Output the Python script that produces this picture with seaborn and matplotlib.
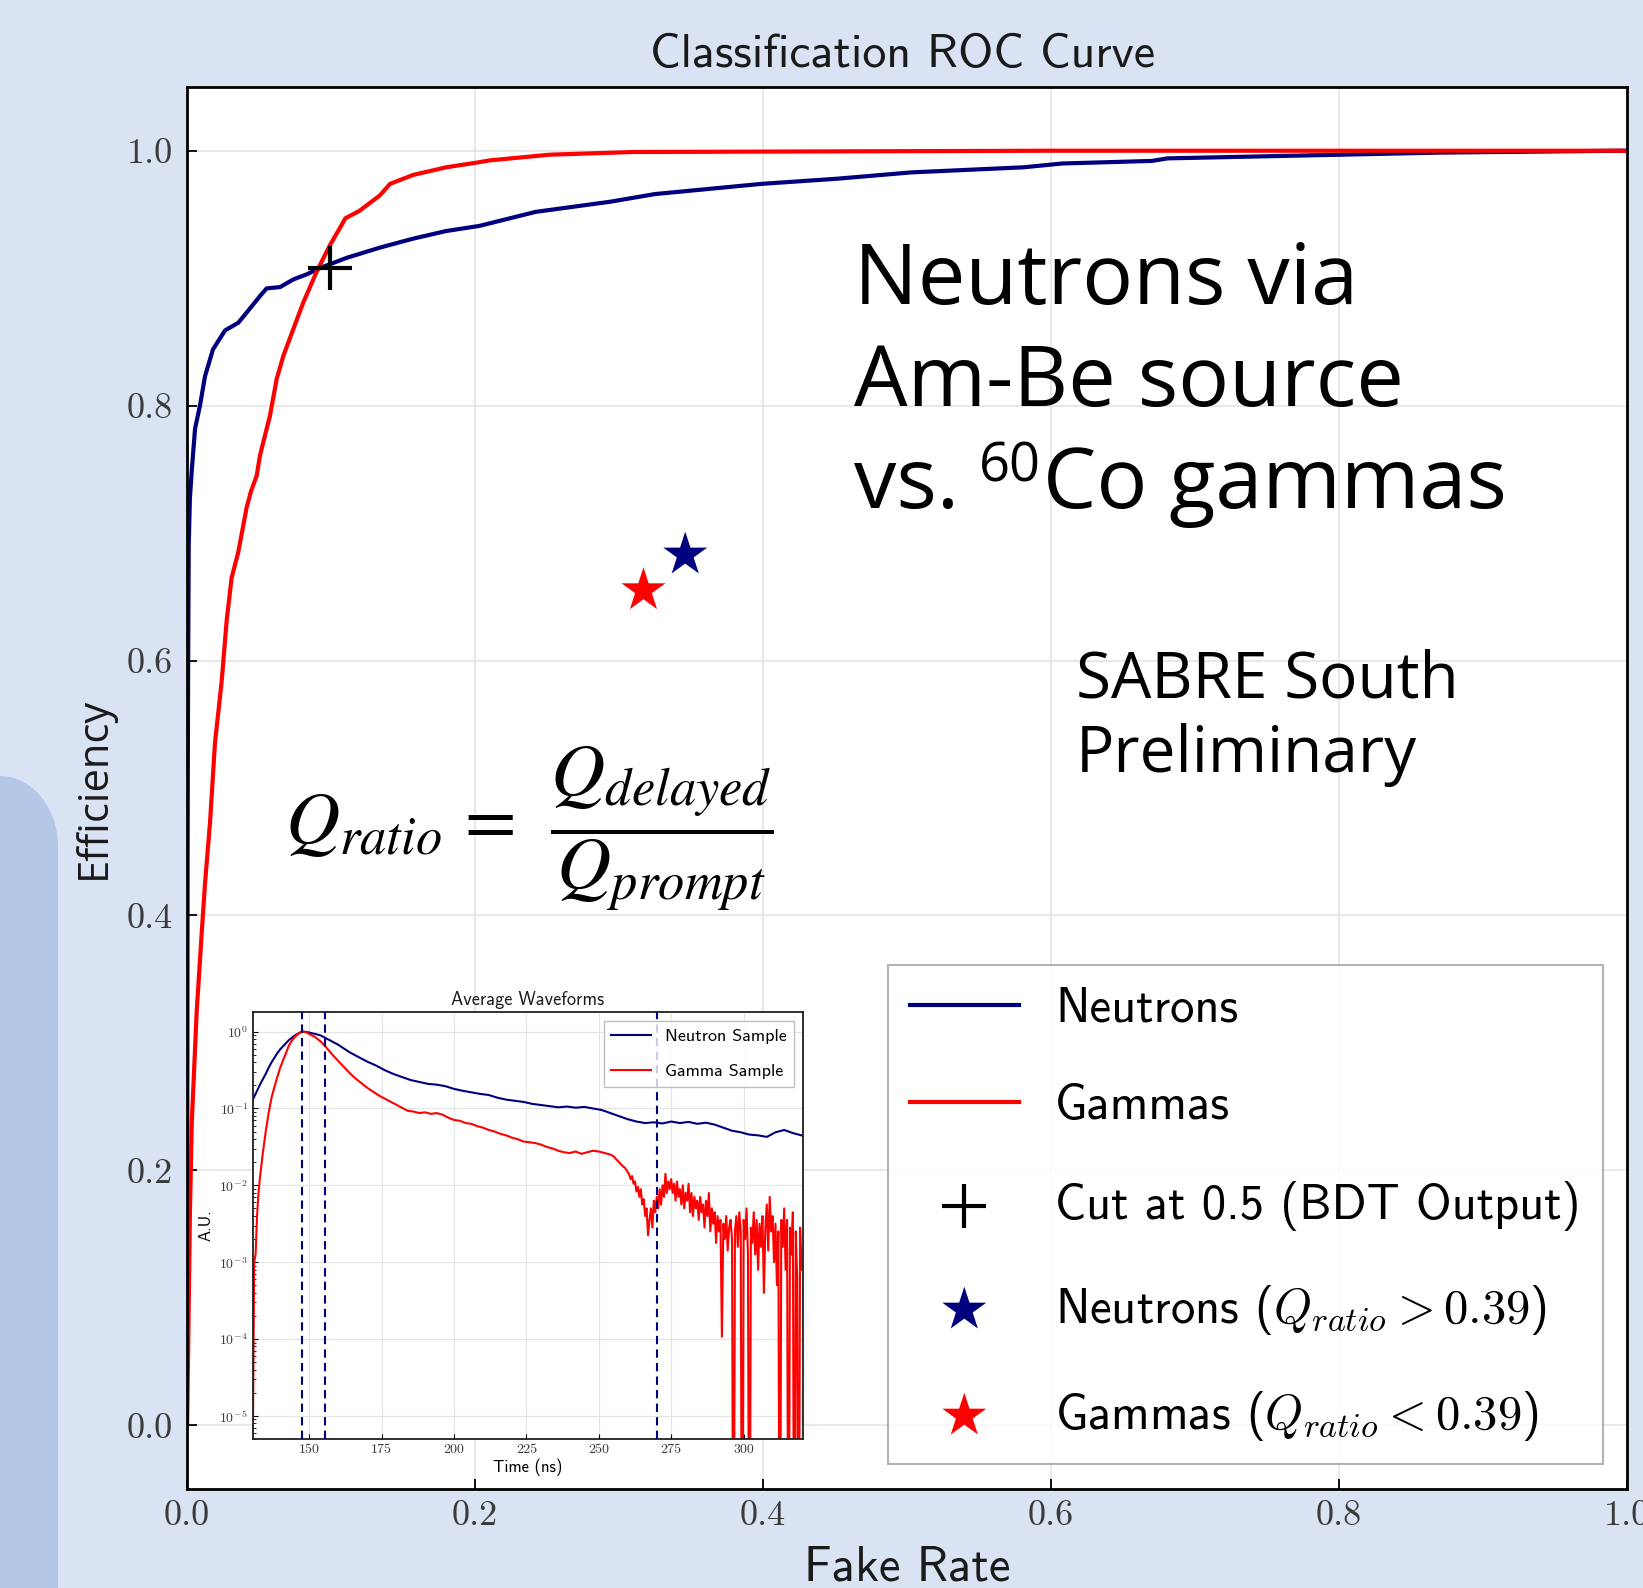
import numpy as np
import pandas as pd
import matplotlib
matplotlib.use("Agg")
import matplotlib.pyplot as plt
import seaborn as sns
from matplotlib.font_manager import FontProperties
from matplotlib.patches import Polygon

# ---------------- ROC curves ----------------
neutron_fake_rate = [0.000, 0.0004, 0.0008, 0.0012, 0.002, 0.0033, 0.0056, 0.009, 0.0125, 0.018,
                     0.0264, 0.0356, 0.0414, 0.0507, 0.0553, 0.0646, 0.0738, 0.0831, 0.0924, 0.111,
                     0.134, 0.157, 0.180, 0.203, 0.242, 0.294, 0.325, 0.399, 0.451, 0.503,
                     0.581, 0.608, 0.670, 0.681, 0.764, 0.869, 0.994, 1.000]
neutron_efficiency = [0.000, 0.450, 0.600, 0.690, 0.727, 0.749, 0.782, 0.800, 0.823, 0.844,
                      0.859, 0.865, 0.873, 0.886, 0.892, 0.893, 0.899, 0.903, 0.908, 0.916,
                      0.924, 0.931, 0.937, 0.941, 0.952, 0.960, 0.966, 0.974, 0.978, 0.983,
                      0.987, 0.990, 0.992, 0.994, 0.996, 0.9985, 1.000, 1.000]

gamma_fake_rate = [0.000, 0.0008, 0.0015, 0.002, 0.0033, 0.0067, 0.0102, 0.0125, 0.016, 0.0194,
                   0.0241, 0.0276, 0.031, 0.0356, 0.0414, 0.0445, 0.0484, 0.0507, 0.0576, 0.0623,
                   0.0669, 0.0738, 0.0808, 0.090, 0.0993, 0.106, 0.110, 0.120, 0.134, 0.141,
                   0.157, 0.180, 0.203, 0.210, 0.252, 0.310, 0.451, 0.600, 1.000]
gamma_efficiency = [0.000, 0.060, 0.120, 0.165, 0.237, 0.324, 0.386, 0.425, 0.473, 0.535,
                    0.584, 0.632, 0.665, 0.685, 0.720, 0.733, 0.745, 0.761, 0.792, 0.821,
                    0.839, 0.860, 0.881, 0.905, 0.926, 0.939, 0.947, 0.953, 0.965, 0.974,
                    0.981, 0.987, 0.991, 0.9924, 0.9969, 0.999, 0.9995, 1.000, 1.000]

# BDT cut working point and the charge-ratio cut points
cut_fake_rate = [0.099]
cut_efficiency = [0.908]
qratio_neutron_fake_rate = [0.346]
qratio_neutron_efficiency = [0.683]
qratio_gamma_fake_rate = [0.317]
qratio_gamma_efficiency = [0.655]

roc_labels = ["Neutrons", "Gammas", "Cut at 0.5 (BDT Output)",
              r"Neutrons ($Q_{ratio} > 0.39$)", r"Gammas ($Q_{ratio} < 0.39$)"]
fake_rate_ticks = [0.0, 0.2, 0.4, 0.6, 0.8, 1.0]
efficiency_ticks = [0.0, 0.2, 0.4, 0.6, 0.8, 1.0]

# ---------------- average waveforms: (time in ns, log10 of normalised amplitude) ----------------
neutron_samples = [
    (130, -0.92), (131, -0.85), (132, -0.77), (133, -0.69), (134, -0.62), (135, -0.55),
    (136, -0.47), (137, -0.40), (138, -0.34), (139, -0.28), (140, -0.23), (141, -0.19),
    (142, -0.15), (143, -0.11), (144, -0.08), (145, -0.05), (146, -0.03), (147, -0.01),
    (148, 0.00), (149, -0.004), (150, -0.012),
    (152, -0.03), (154, -0.05), (156, -0.09), (158, -0.13), (160, -0.17), (162, -0.22),
    (164, -0.27), (166, -0.31), (168, -0.35), (170, -0.39),
    (173, -0.44), (176, -0.50), (179, -0.55), (182, -0.59), (185, -0.63), (188, -0.655),
    (191, -0.68), (194, -0.69), (197, -0.71), (200, -0.745), (203, -0.77), (206, -0.79),
    (209, -0.81), (212, -0.825), (215, -0.86), (218, -0.885), (221, -0.90), (224, -0.915),
    (227, -0.94), (230, -0.955), (233, -0.97), (236, -0.985), (239, -0.975), (242, -0.99),
    (245, -0.98), (248, -1.00), (251, -1.02), (254, -1.06), (257, -1.10), (260, -1.14),
    (263, -1.17), (266, -1.19), (269, -1.18), (272, -1.195), (275, -1.17), (278, -1.19),
    (281, -1.175), (284, -1.20), (287, -1.185), (290, -1.21), (293, -1.25), (296, -1.29),
    (299, -1.31), (302, -1.34), (305, -1.35), (308, -1.37), (311, -1.31), (314, -1.28),
    (317, -1.32), (320, -1.35),
]

gamma_samples = [
    (130, -7.0), (130.5, -5.6), (131, -3.0), (131.5, -2.9), (132, -2.4), (132.5, -2.1),
    (133, -1.9), (134, -1.58), (135, -1.30), (136, -1.06), (137, -0.86), (138, -0.72),
    (139, -0.59), (140, -0.47), (141, -0.37), (142, -0.28), (143, -0.18), (144, -0.12),
    (145, -0.07), (146, -0.035), (147, -0.01), (148, 0.0), (149, -0.01), (150, -0.03),
    (152, -0.07), (154, -0.13), (156, -0.21), (158, -0.30), (160, -0.38), (162, -0.46),
    (164, -0.54), (166, -0.61), (168, -0.67), (170, -0.73), (172, -0.78), (174, -0.83),
    (176, -0.87), (178, -0.91), (180, -0.95), (182, -0.99), (184, -1.03), (186, -1.04),
    (188, -1.06), (190, -1.05), (192, -1.07), (194, -1.06), (196, -1.08), (198, -1.12),
    (200, -1.15), (202, -1.16), (204, -1.19), (206, -1.20), (208, -1.23), (210, -1.25),
    (212, -1.28), (214, -1.30), (216, -1.33), (218, -1.35), (220, -1.38), (222, -1.40),
    (224, -1.43), (226, -1.44), (228, -1.45), (230, -1.47), (232, -1.50), (234, -1.52),
    (236, -1.55), (238, -1.57), (240, -1.58), (242, -1.56), (244, -1.59), (246, -1.57),
    (248, -1.55), (250, -1.56), (252, -1.58), (254, -1.60), (255, -1.62), (256, -1.66),
    (257, -1.70),
    (258.0, -1.74), (258.5, -1.76), (259.0, -1.77), (259.5, -1.80), (260.0, -1.83),
    (260.5, -1.86), (261.0, -1.92), (261.5, -1.88), (262.0, -1.98), (262.5, -1.95),
    (263.0, -2.08), (263.5, -2.02), (264.0, -2.15), (264.5, -2.05), (265.0, -2.25),
    (265.5, -2.18), (266.0, -2.40), (266.5, -2.30), (267.0, -2.65), (267.5, -2.45),
    (268.0, -2.30), (268.5, -2.55), (269.0, -2.20), (269.5, -2.35), (270.0, -2.15),
    (270.5, -2.30), (271.0, -2.05), (271.5, -2.25), (272.0, -2.00), (272.5, -2.15),
    (273.0, -1.85), (273.5, -2.10), (274.0, -1.95), (274.5, -2.05), (275.0, -1.92),
    (275.5, -2.10), (276.0, -1.98), (276.5, -2.20), (277.0, -1.95), (277.5, -2.15),
    (278.0, -2.05), (278.5, -2.25), (279.0, -2.00), (279.5, -2.30), (280.0, -2.10),
    (280.5, -2.20), (281.0, -1.98), (281.5, -2.35), (282.0, -2.10), (282.5, -2.40),
    (283.0, -2.15), (283.5, -2.30), (284.0, -2.20), (284.5, -2.45), (285.0, -2.15),
    (285.5, -2.35), (286.0, -2.25), (286.5, -2.55), (287.0, -2.20), (287.5, -2.40),
    (288.0, -2.10), (288.5, -2.60), (289.0, -2.30), (289.5, -2.50), (290.0, -2.35),
    (290.5, -2.75), (291.0, -2.40), (291.5, -2.60), (292.0, -2.45), (292.5, -3.97),
    (293.0, -2.50), (293.5, -2.70), (294.0, -2.40), (294.5, -2.85), (295.0, -2.55),
    (295.5, -2.45), (296.0, -2.70), (296.5, -9.0), (297.0, -2.60), (297.5, -2.40),
    (298.0, -2.80), (298.5, -2.35), (299.0, -2.60), (299.5, -9.0), (300.0, -2.45),
    (300.5, -2.70), (301.0, -2.30), (301.5, -2.90), (302.0, -9.0), (302.5, -2.55),
    (303.0, -2.75), (303.5, -2.35), (304.0, -2.90), (304.5, -2.45), (305.0, -3.10),
    (305.5, -2.50), (306.0, -2.80), (306.5, -2.40), (307.0, -3.40), (307.5, -2.55),
    (308.0, -2.25), (308.5, -2.85), (309.0, -2.15), (309.5, -2.60), (310.0, -2.40),
    (310.5, -3.00), (311.0, -2.50), (311.5, -3.30), (312.0, -2.60), (312.5, -9.0),
    (313.0, -2.45), (313.5, -2.80), (314.0, -2.30), (314.5, -3.10), (315.0, -2.45),
    (315.5, -9.0), (316.0, -2.55), (316.5, -2.90), (317.0, -2.35), (317.5, -9.0),
    (318.0, -2.60), (318.5, -3.20), (319.0, -9.0), (319.5, -2.55), (320.0, -3.10),
]

# integration window edges (prompt / delayed)
window_edges_ns = [147.5, 155.5, 270.0]
time_ticks = [150, 175, 200, 225, 250, 275, 300]
waveform_labels = ["Neutron Sample", "Gamma Sample"]

# ---------------- styling ----------------
BG = "#DAE3F3"
PANEL = "#B4C7E7"
NAVY = "#00007F"
RED = "#FF0000"
TICK_GREY = "#3a3a3a"

plt.rcParams["mathtext.fontset"] = "cm"
plt.rcParams["mathtext.rm"] = "Open Sans"
plt.rcParams["axes.unicode_minus"] = False

W, H = 1643, 1588
fig = plt.figure(figsize=(W / 100, H / 100), dpi=100, facecolor=BG)


def fx(px):
    return px / W


def fy(py):
    return 1 - py / H


# rounded side tab on the left edge
theta = np.linspace(np.pi / 2, 0, 60)
arc = [(fx(58 * np.cos(t)), fy(847 - 71 * np.sin(t))) for t in theta]
tab = Polygon([(fx(0), fy(H + 5))] + arc + [(fx(58), fy(H + 5))], closed=True,
              transform=fig.transFigure, facecolor=PANEL, edgecolor="none", zorder=-1)
fig.patches.append(tab)

# ---------------- main ROC axes ----------------
ax = fig.add_axes([fx(187), fy(1489), (1627 - 187) / W, (1489 - 87) / H])
ax.set_facecolor("white")
ax.set_axisbelow(True)

neutron_roc = pd.DataFrame({"fake_rate": neutron_fake_rate, "efficiency": neutron_efficiency})
gamma_roc = pd.DataFrame({"fake_rate": gamma_fake_rate, "efficiency": gamma_efficiency})

sns.lineplot(data=neutron_roc, x="fake_rate", y="efficiency", ax=ax, color=NAVY, lw=3,
             estimator=None, sort=False, label=roc_labels[0])
sns.lineplot(data=gamma_roc, x="fake_rate", y="efficiency", ax=ax, color=RED, lw=3,
             estimator=None, sort=False, label=roc_labels[1])
sns.scatterplot(x=cut_fake_rate, y=cut_efficiency, ax=ax, marker="+", s=1024,
                color="black", linewidth=3, label=roc_labels[2], zorder=5)
sns.scatterplot(x=qratio_neutron_fake_rate, y=qratio_neutron_efficiency, ax=ax, marker="*",
                s=1110, color=NAVY, edgecolor="none", linewidth=0, label=roc_labels[3], zorder=5)
sns.scatterplot(x=qratio_gamma_fake_rate, y=qratio_gamma_efficiency, ax=ax, marker="*",
                s=1110, color=RED, edgecolor="none", linewidth=0, label=roc_labels[4], zorder=5)

ax.set_xlim(0, 1)
ax.set_ylim(-0.05, 1.05)
ax.set_xticks(fake_rate_ticks)
ax.set_yticks(efficiency_ticks)
ax.set_xticklabels([f"{v:.1f}" for v in fake_rate_ticks])
ax.set_yticklabels([f"{v:.1f}" for v in efficiency_ticks])
ax.grid(True, color="#e4e4e4", lw=1.2)
ax.tick_params(direction="in", length=7, width=1.3, labelsize=26, colors="black",
               labelcolor=TICK_GREY, labelfontfamily="cmr10")
ax.tick_params(axis="y", pad=10)
ax.tick_params(axis="x", pad=8)
for sp in ax.spines.values():
    sp.set_linewidth(2)
    sp.set_color("black")

ax.set_xlabel("Fake Rate", family="cmss10", size=35, color="#1a1a1a")
ax.xaxis.set_label_coords(0.5, -0.040)
ax.set_ylabel("Efficiency", family="Open Sans", size=30, color="#1a1a1a")
ax.yaxis.set_label_coords(-0.05, 0.5)

leg = ax.legend(loc="lower left", bbox_to_anchor=(0.4868, 0.0175), borderaxespad=0,
                prop=FontProperties(family="cmss10", size=35, math_fontfamily="cm"),
                handlelength=2.24, handletextpad=0.75, labelspacing=1.07, borderpad=0.45,
                framealpha=0.8, edgecolor="#a0a0a0", fancybox=False)
leg.get_frame().set_linewidth(1.5)

fig.text(fx(903), fy(67), "Classification ROC Curve", family="cmss10", size=34.5,
         ha="center", va="baseline", color="#1a1a1a")

# ---------------- annotations ----------------
big = dict(family="Open Sans", size=61, color="black", va="baseline", ha="left")
fig.text(fx(854), fy(304), "Neutrons via", **big)
fig.text(fx(854), fy(406), "Am-Be source", **big)
t_vs = fig.text(fx(854), fy(508), "vs.", **big)
t_60 = ax.annotate("60", xy=(1, fy(482)), xycoords=(t_vs, "figure fraction"),
                   xytext=(14, 0), textcoords="offset points",
                   family="Open Sans", size=39, va="baseline", ha="left")
ax.annotate("Co gammas", xy=(1, fy(508)), xycoords=(t_60, "figure fraction"),
            xytext=(2, 0), textcoords="offset points", **big)

small = dict(family="Open Sans", size=46, color="black", va="baseline", ha="left")
fig.text(fx(1076), fy(698), "SABRE South", **small)
fig.text(fx(1076), fy(772), "Preliminary", **small)

fig.text(fx(285), fy(829), r"$Q_{ratio}\,=\;\,\dfrac{Q_{delayed}}{Q_{prompt}}$",
         size=54, va="center", ha="left", math_fontfamily="stix")

# ---------------- inset: average waveforms ----------------
axin = fig.add_axes([fx(252.7), fy(1439), 550.3 / W, 427 / H])
axin.set_facecolor("white")
axin.set_axisbelow(True)

neutron_wave = pd.DataFrame(neutron_samples, columns=["time", "log_amp"])
neutron_wave["amp"] = np.power(10.0, neutron_wave["log_amp"])
gamma_wave = pd.DataFrame(gamma_samples, columns=["time", "log_amp"])
gamma_wave["amp"] = np.power(10.0, gamma_wave["log_amp"])

sns.lineplot(data=neutron_wave, x="time", y="amp", ax=axin, color=NAVY, lw=1.5,
             estimator=None, sort=False, label=waveform_labels[0])
sns.lineplot(data=gamma_wave, x="time", y="amp", ax=axin, color=RED, lw=1.5,
             estimator=None, sort=False, label=waveform_labels[1])
for edge in window_edges_ns:
    axin.axvline(edge, color=NAVY, ls=(0, (4, 2.5)), lw=1.5, zorder=3)

axin.set_yscale("log")
axin.set_xlim(130.5, 320.5)
axin.set_ylim(5e-6, 1.8)
axin.set_xticks(time_ticks)
axin.grid(True, which="major", color="#e4e4e4", lw=0.8)
axin.tick_params(which="both", direction="in", labelsize=10, labelcolor=TICK_GREY,
                 labelfontfamily="cmr10")
for sp in axin.spines.values():
    sp.set_linewidth(1.3)
    sp.set_color("#202020")
axin.set_title("Average Waveforms", family="cmss10", size=13.2, pad=5, color="#1a1a1a")
axin.set_xlabel("Time (ns)", family="cmss10", size=12, labelpad=2)
axin.set_ylabel("A.U.", family="cmss10", size=12, labelpad=4)
axin.legend(loc="upper right", prop=FontProperties(family="cmss10", size=13),
            handlelength=2.2, handletextpad=0.8, labelspacing=1.1,
            framealpha=0.8, edgecolor="#b0b0b0", fancybox=False)

fig.savefig("out.png", dpi=100, facecolor=fig.get_facecolor())
